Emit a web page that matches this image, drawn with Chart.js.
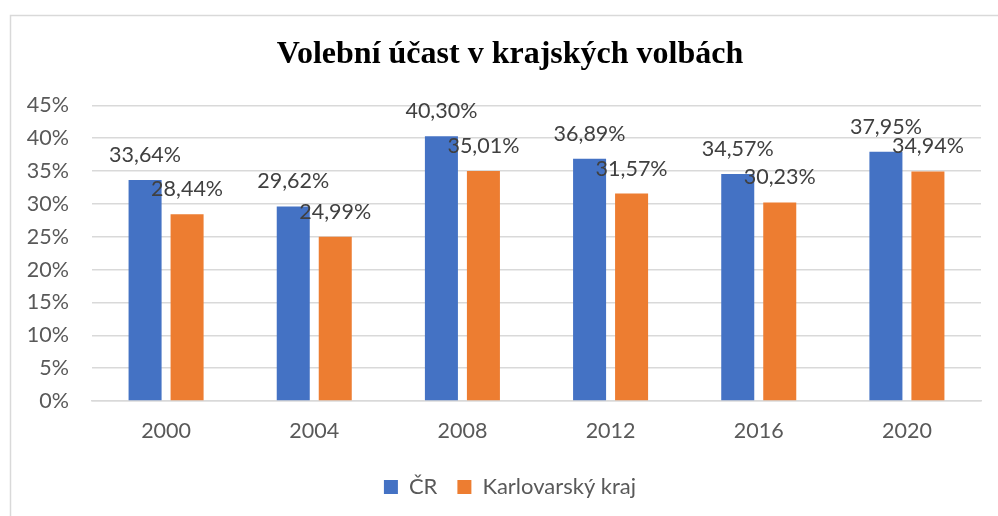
<!DOCTYPE html>
<html>
<head>
<meta charset="utf-8">
<script src="https://cdn.jsdelivr.net/npm/chart.js@4"></script>
<style>
  html, body { margin: 0; padding: 0; background: #fff; }
  #wrap { width: 998px; height: 516px; }
</style>
</head>
<body>
<div id="wrap"><canvas id="chart"></canvas></div>
<script>
// years of the regional elections
const years = ['2000', '2004', '2008', '2012', '2016', '2020'];
// turnout in %
const turnoutCR = [33.64, 29.62, 40.30, 36.89, 34.57, 37.95];
const turnoutKarlovarsky = [28.44, 24.99, 35.01, 31.57, 30.23, 34.94];
const seriesNames = ['ČR', 'Karlovarský kraj'];
const yTicks = [0, 5, 10, 15, 20, 25, 30, 35, 40, 45];

const fmt = v => v.toFixed(2).replace('.', ',') + '%';

// outer chart frame (only top and left edge are visible)
const framePlugin = {
    id: 'frame',
    beforeDraw(chart) {
        const c = chart.ctx;
        c.save();
        c.fillStyle = '#fff';
        c.fillRect(0, 0, chart.width, chart.height);
        c.strokeStyle = '#d9d9d9';
        c.lineWidth = 1.5;
        c.strokeRect(10.5, 15.5, chart.width + 20, chart.height + 20);
        c.restore();
    },
    // let the y labels use the left padding too (they get clipped otherwise)
    afterLayout(chart) {
        chart.scales.y.left = 0;
    }
};

// value labels above the bars
const valueLabels = {
    id: 'valueLabels',
    afterDatasetsDraw(chart) {
        const c = chart.ctx;
        c.save();
        c.font = '21.5px Lato';
        c.fillStyle = '#404040';
        c.textAlign = 'center';
        c.textBaseline = 'middle';
        chart.data.datasets.forEach((ds, i) => {
            chart.getDatasetMeta(i).data.forEach((bar, j) => {
                c.fillText(fmt(ds.data[j]), bar.x, bar.y - 25);
            });
        });
        c.restore();
    }
};

new Chart(document.getElementById('chart'), {
    type: 'bar',
    data: {
        labels: years,
        datasets: [{
            label: seriesNames[0],
            data: turnoutCR,
            backgroundColor: '#4472C4'
        }, {
            label: seriesNames[1],
            data: turnoutKarlovarsky,
            backgroundColor: '#ED7D31'
        }]
    },
    options: {
        responsive: true,
        maintainAspectRatio: false,
        animation: false,
        categoryPercentage: 0.567,
        barPercentage: 0.786,
        layout: { padding: { top: 0, right: 17, bottom: 8, left: 39 } },
        scales: {
            x: {
                grid: { display: false, drawTicks: false },
                border: { color: '#d9d9d9', width: 1.5 },
                ticks: { color: '#595959', font: { family: 'Lato', size: 21.5 }, padding: 17 },
                afterFit(s) { s.height = 55; }
            },
            y: {
                min: 0,
                max: 45,
                afterBuildTicks(s) { s.ticks = yTicks.map(v => ({ value: v })); },
                grid: { color: '#d9d9d9', lineWidth: 1.5, drawTicks: false },
                border: { display: false },
                ticks: {
                    color: '#595959',
                    font: { family: 'Lato', size: 21.5 },
                    padding: 23,
                    callback: v => v + '%'
                },
                afterFit(s) { s.width = 53; }
            }
        },
        plugins: {
            title: {
                display: true,
                text: 'Volební účast v krajských volbách',
                color: '#000',
                font: { family: 'Liberation Serif', size: 32, weight: 'bold' },
                padding: { top: 36, bottom: 31 }
            },
            legend: {
                position: 'bottom',
                labels: {
                    color: '#595959',
                    font: { family: 'Lato', size: 22 },
                    boxWidth: 14,
                    boxHeight: 14,
                    padding: 20
                }
            },
            tooltip: { enabled: false }
        }
    },
    plugins: [framePlugin, valueLabels]
});
</script>
</body>
</html>
